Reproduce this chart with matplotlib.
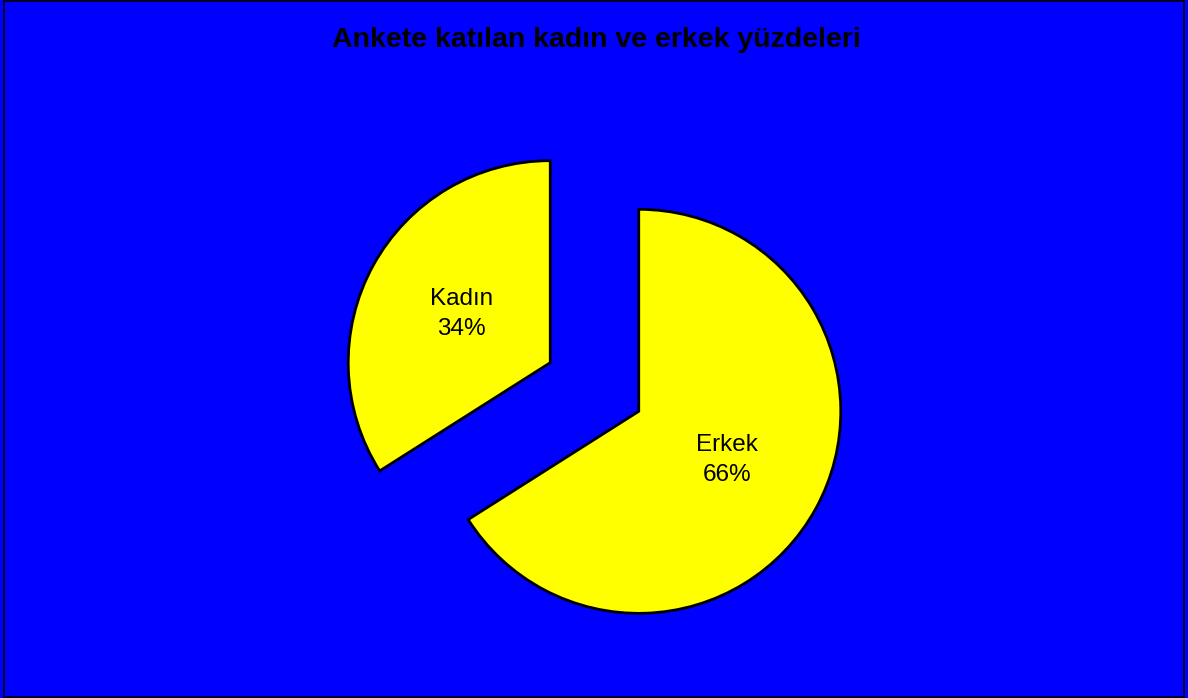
import matplotlib.pyplot as plt
from matplotlib.patches import Rectangle

plt.rcParams['font.family'] = ['Liberation Sans', 'DejaVu Sans']

# data
labels = ["Kadın", "Erkek"]
values = [34, 66]
explode = [0.25, 0.25]
title = "Ankete katılan kadın ve erkek yüzdeleri"

W, H = 1188, 698
fig = plt.figure(figsize=(W / 100, H / 100), dpi=100, facecolor="#0000FF")
ax = fig.add_axes([0, 0, 1, 1])
ax.set_facecolor("#0000FF")

# pixel geometry of the pie
r_px = 202
cx, cy = 594.5, 387

def fmt(pct):
    idx = 0 if abs(pct - values[0]) < 1 else 1
    return "%s\n%d%%" % (labels[idx], round(pct))

wedges, texts = ax.pie(values, explode=explode, startangle=90, counterclock=True,
                       colors=["#FFFF00", "#FFFF00"],
                       wedgeprops=dict(edgecolor="black", linewidth=2),
                       autopct=fmt, pctdistance=0.5,
                       textprops=dict(fontsize=17.5, color="black", linespacing=1.5))[:2]

ax.set_aspect("auto")
ax.set_xlim(-cx / r_px, (W - cx) / r_px)
ax.set_ylim(-(H - cy) / r_px, cy / r_px)
ax.axis("off")

fig.text(596 / W, 1 - 40 / H, title, ha="center", va="center",
         fontsize=20.5, fontweight="bold", color="black")

fig.patches.append(Rectangle((0.003, 0.002), 0.994, 0.996, transform=fig.transFigure,
                             fill=False, edgecolor="black", linewidth=1.2))

fig.savefig("out.png", dpi=100, facecolor=fig.get_facecolor())
